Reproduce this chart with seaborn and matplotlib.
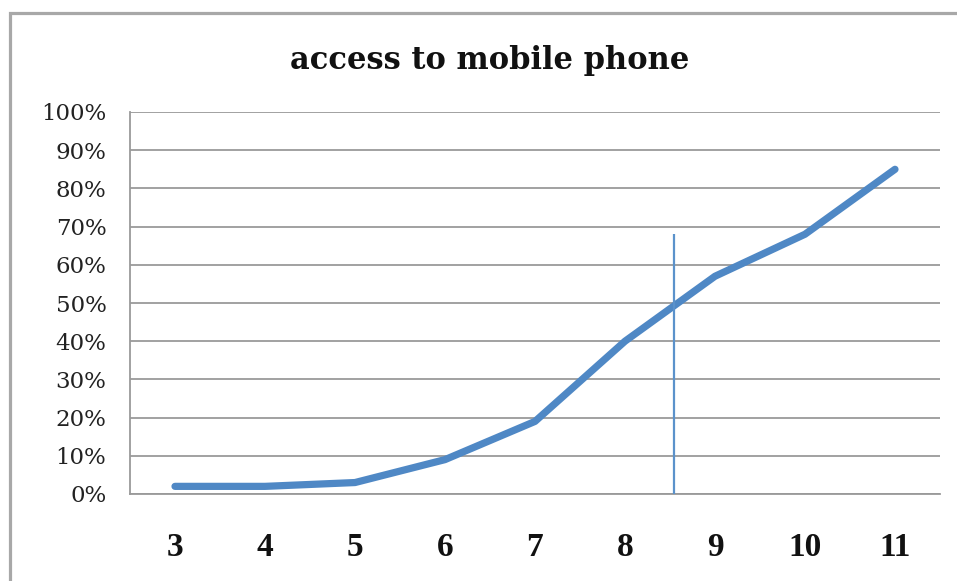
import matplotlib
matplotlib.use("Agg")
import matplotlib.pyplot as plt
import matplotlib.patches as mpatches
from matplotlib.ticker import FixedLocator, PercentFormatter
import numpy as np
import pandas as pd
import seaborn as sns

# Share of children with access to a mobile phone, by age
ages = ["3", "4", "5", "6", "7", "8", "9", "10", "11"]
access_pct = [2, 2, 3, 9, 19, 40, 57, 68, 85]

# Vertical reference line between ages 8 and 9
divider_pos = 5.54
divider_top = 68

y_ticks = list(range(0, 101, 10))

df = pd.DataFrame({"age": ages, "access": access_pct})

sns.set_theme(style="white")
plt.rcParams["font.family"] = ["DejaVu Serif"]

fig = plt.figure(figsize=(9.57, 5.81), dpi=100)
ax = fig.add_axes([130 / 957, 1 - 494 / 581, 810 / 957, 382 / 581])

grid_c = "#9a9a9a"
line_c = "#4f88c5"

sns.lineplot(data=df, x="age", y="access", ax=ax, color=line_c,
             linewidth=5.2, solid_capstyle="round", solid_joinstyle="round",
             sort=False, zorder=3)

ax.vlines(divider_pos, 0, divider_top, color="#5b92cb", linewidth=1.6, zorder=4)

ax.set_xlim(-0.5, len(ages) - 0.5)
ax.set_ylim(0, 100)
ax.set_yticks(y_ticks)
ax.yaxis.set_major_formatter(PercentFormatter(decimals=0))
ax.yaxis.grid(True, color=grid_c, linewidth=1.3)
ax.set_axisbelow(True)

# category labels without marks; boundary ticks as minor ticks
ax.set_xticks(range(len(ages)))
ax.set_xticklabels(ages)
ax.xaxis.set_minor_locator(FixedLocator(np.arange(-0.5, len(ages), 1.0)))
ax.tick_params(axis="x", which="major", length=0, pad=27, labelcolor="#111111")
ax.tick_params(axis="x", which="minor", length=7, width=1.3, color=grid_c, direction="out")
ax.tick_params(axis="y", which="major", length=7, width=1.3, color=grid_c,
               direction="out", pad=10, labelsize=16.5, labelcolor="#222222")
for lbl in ax.get_xticklabels():
    lbl.set_fontfamily("Liberation Serif")
    lbl.set_fontweight("bold")
    lbl.set_fontsize(24)

for side in ("top", "right"):
    ax.spines[side].set_visible(False)
for side in ("left", "bottom"):
    ax.spines[side].set_color(grid_c)
    ax.spines[side].set_linewidth(1.3)

ax.set_xlabel("")
ax.set_ylabel("")

fig.text(490 / 957, 1 - 60 / 581, "access to mobile phone", ha="center", va="center",
         fontsize=22, fontweight="bold", color="#111111")

# chart frame
frame = mpatches.Rectangle((10 / 957, -0.2), 1.2, 1 - 13 / 581 + 0.2,
                           transform=fig.transFigure, fill=False,
                           edgecolor="#a8a8a8", linewidth=2.3, clip_on=False)
fig.patches.append(frame)

fig.savefig("out.png", dpi=100)
